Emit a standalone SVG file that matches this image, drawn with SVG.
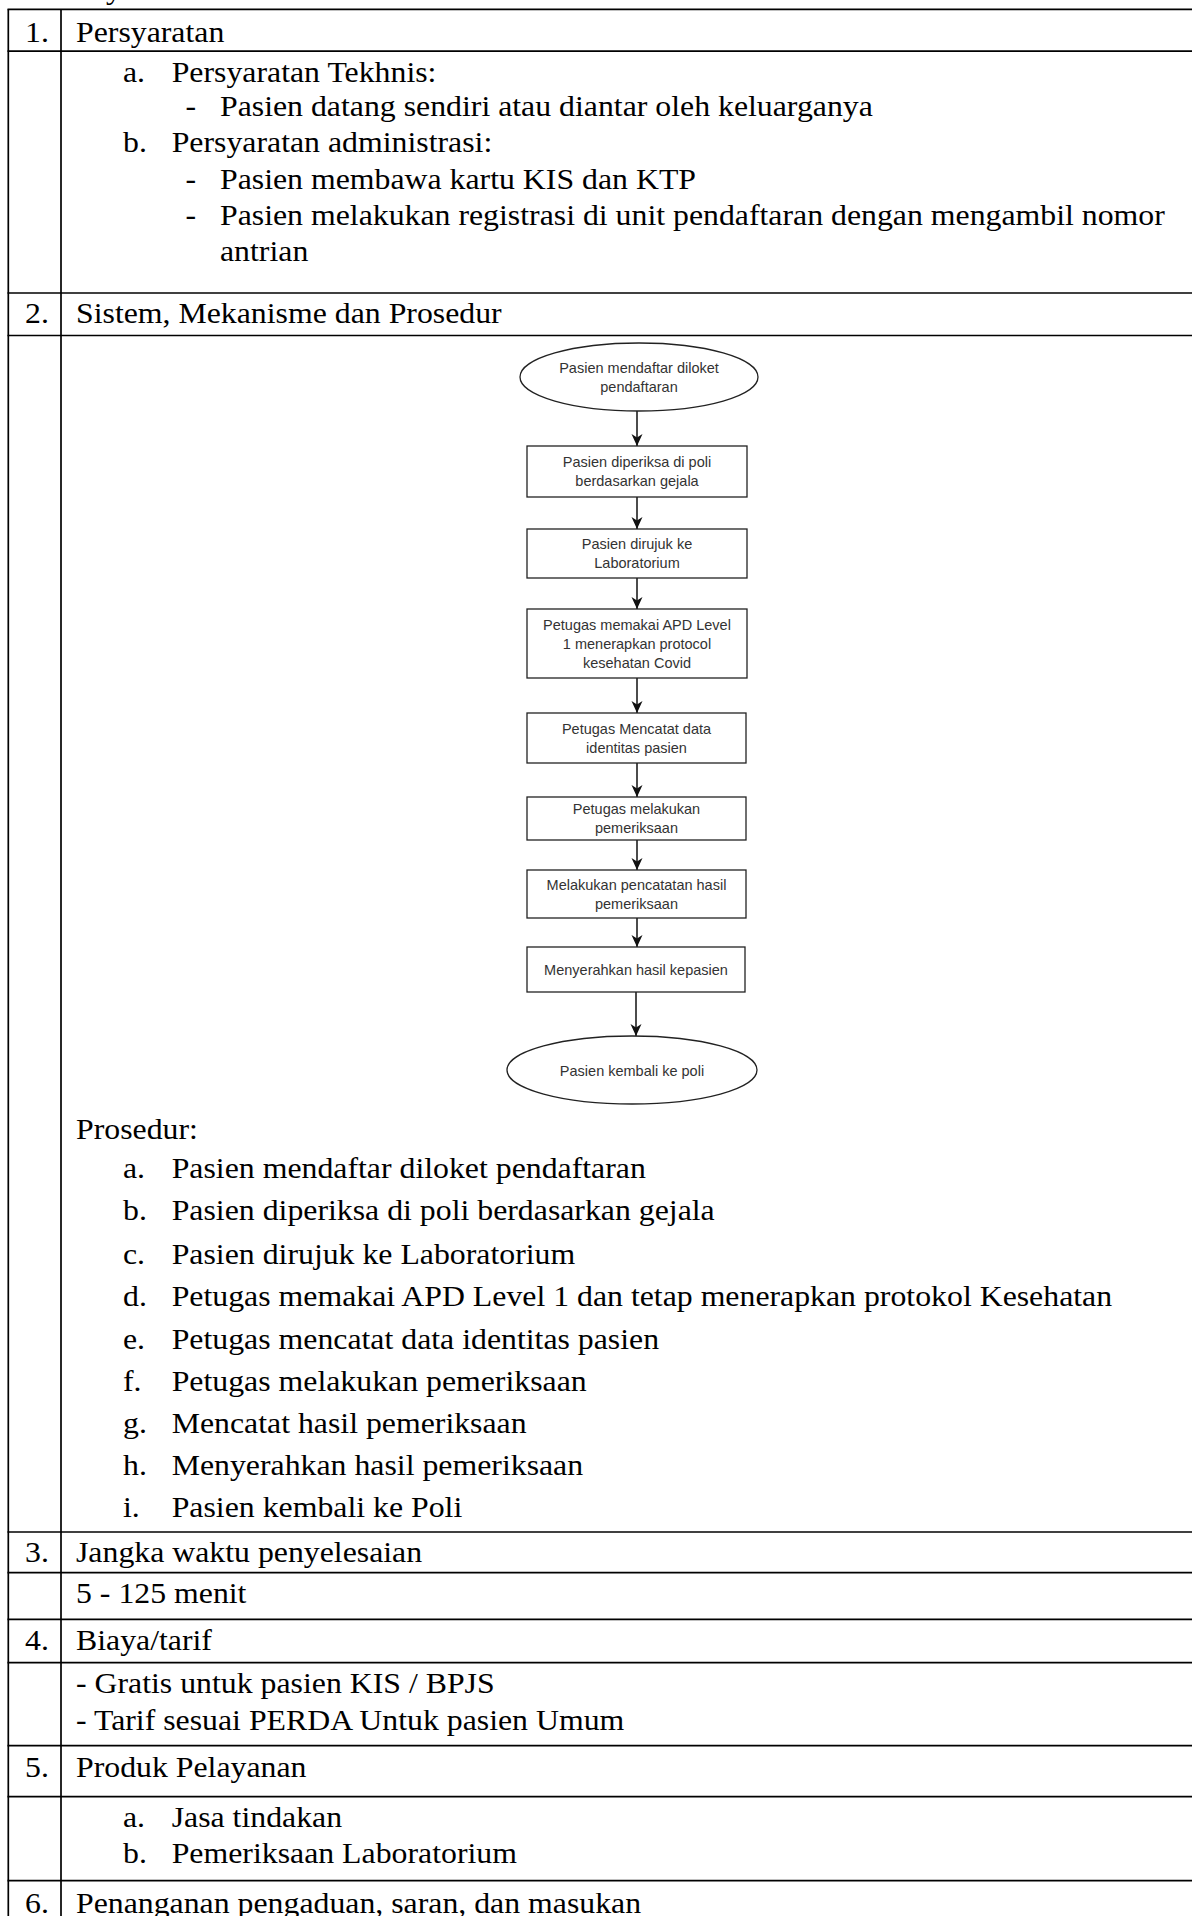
<svg xmlns="http://www.w3.org/2000/svg" width="1192" height="1916" viewBox="0 0 1192 1916">
<style>
.t { font-family: "Liberation Serif", "Times New Roman", serif; font-size: 31.8px; fill: #000; }
.f { font-family: "Liberation Sans", Arial, sans-serif; font-size: 14.5px; fill: #333; text-anchor: middle; }
.box { fill: #fff; stroke: #222; stroke-width: 1.3; }
.con { stroke: #111; stroke-width: 1.5; fill: none; marker-end: url(#arr); }
.grid { stroke: #000; stroke-width: 1.7; fill: none; }
</style>
<defs>
<marker id="arr" markerUnits="userSpaceOnUse" markerWidth="12" markerHeight="12" viewBox="0 0 12 12" refX="12" refY="6" orient="auto">
<path d="M0,0.5 L12,6 L0,11.5 L3.5,6 z" fill="#111"/>
</marker>
</defs>
<rect x="0" y="0" width="1192" height="1916" fill="#fff"/>

<g id="table-grid">
<line class="grid" x1="8.3" y1="9.3" x2="8.3" y2="1916"/>
<line class="grid" x1="61" y1="9.3" x2="61" y2="1916"/>
<line class="grid" x1="7.5" y1="9.3" x2="1192" y2="9.3"/>
<line class="grid" x1="7.5" y1="51.2" x2="1192" y2="51.2"/>
<line class="grid" x1="7.5" y1="293" x2="1192" y2="293"/>
<line class="grid" x1="7.5" y1="335.5" x2="1192" y2="335.5"/>
<line class="grid" x1="7.5" y1="1532" x2="1192" y2="1532"/>
<line class="grid" x1="7.5" y1="1572.7" x2="1192" y2="1572.7"/>
<line class="grid" x1="7.5" y1="1619.3" x2="1192" y2="1619.3"/>
<line class="grid" x1="7.5" y1="1662.7" x2="1192" y2="1662.7"/>
<line class="grid" x1="7.5" y1="1745.7" x2="1192" y2="1745.7"/>
<line class="grid" x1="7.5" y1="1796.7" x2="1192" y2="1796.7"/>
<line class="grid" x1="7.5" y1="1880.7" x2="1192" y2="1880.7"/>
</g>

<g id="table-text" transform="scale(1,0.9)">
<text class="t" x="106" y="-1.1">y</text>
<text class="t" x="25" y="46.33">1.</text>
<text class="t" x="76" y="46.33">Persyaratan</text>
<text class="t" x="123" y="91.11">a.</text>
<text class="t" x="171.7" y="91.11">Persyaratan Tekhnis:</text>
<text class="t" x="185.6" y="128.89">-</text>
<text class="t" x="220" y="128.89">Pasien datang sendiri atau diantar oleh keluarganya</text>
<text class="t" x="123" y="168.89">b.</text>
<text class="t" x="171.7" y="168.89">Persyaratan administrasi:</text>
<text class="t" x="185.6" y="210">-</text>
<text class="t" x="220" y="210">Pasien membawa kartu KIS dan KTP</text>
<text class="t" x="185.6" y="250">-</text>
<text class="t" x="220" y="250">Pasien melakukan registrasi di unit pendaftaran dengan mengambil nomor</text>
<text class="t" x="220" y="290">antrian</text>
<text class="t" x="25" y="358.89">2.</text>
<text class="t" x="76" y="358.89">Sistem, Mekanisme dan Prosedur</text>

<text class="t" x="76" y="1266.11">Prosedur:</text>
<text class="t" x="123" y="1309.44">a.</text>
<text class="t" x="171.7" y="1309.44">Pasien mendaftar diloket pendaftaran</text>
<text class="t" x="123" y="1356.11">b.</text>
<text class="t" x="171.7" y="1356.11">Pasien diperiksa di poli berdasarkan gejala</text>
<text class="t" x="123" y="1405">c.</text>
<text class="t" x="171.7" y="1405">Pasien dirujuk ke Laboratorium</text>
<text class="t" x="123" y="1451.67">d.</text>
<text class="t" x="171.7" y="1451.67">Petugas memakai APD Level 1 dan tetap menerapkan protokol Kesehatan</text>
<text class="t" x="123" y="1498.89">e.</text>
<text class="t" x="171.7" y="1498.89">Petugas mencatat data identitas pasien</text>
<text class="t" x="123" y="1545.56">f.</text>
<text class="t" x="171.7" y="1545.56">Petugas melakukan pemeriksaan</text>
<text class="t" x="123" y="1592.22">g.</text>
<text class="t" x="171.7" y="1592.22">Mencatat hasil pemeriksaan</text>
<text class="t" x="123" y="1639.44">h.</text>
<text class="t" x="171.7" y="1639.44">Menyerahkan hasil pemeriksaan</text>
<text class="t" x="123" y="1685.22">i.</text>
<text class="t" x="171.7" y="1685.22">Pasien kembali ke Poli</text>

<text class="t" x="25" y="1735.22">3.</text>
<text class="t" x="76" y="1735.22">Jangka waktu penyelesaian</text>
<text class="t" x="76" y="1781.44">5 - 125 menit</text>
<text class="t" x="25" y="1833.33">4.</text>
<text class="t" x="76" y="1833.33">Biaya/tarif</text>
<text class="t" x="76" y="1881.44">- Gratis untuk pasien KIS / BPJS</text>
<text class="t" x="76" y="1922.22">- Tarif sesuai PERDA Untuk pasien Umum</text>
<text class="t" x="25" y="1974.11">5.</text>
<text class="t" x="76" y="1974.11">Produk Pelayanan</text>
<text class="t" x="123" y="2029.67">a.</text>
<text class="t" x="171.7" y="2029.67">Jasa tindakan</text>
<text class="t" x="123" y="2070.33">b.</text>
<text class="t" x="171.7" y="2070.33">Pemeriksaan Laboratorium</text>
<text class="t" x="25" y="2125.89">6.</text>
<text class="t" x="76" y="2125.89">Penanganan pengaduan, saran, dan masukan</text>
</g>

<g id="connectors">
<line class="con" x1="637" y1="411" x2="637" y2="446"/>
<line class="con" x1="637" y1="497" x2="637" y2="529"/>
<line class="con" x1="637" y1="578" x2="637" y2="609"/>
<line class="con" x1="637" y1="678" x2="637" y2="713"/>
<line class="con" x1="637" y1="763" x2="637" y2="797"/>
<line class="con" x1="637" y1="840" x2="637" y2="870"/>
<line class="con" x1="637" y1="918" x2="637" y2="947"/>
<line class="con" x1="636" y1="992" x2="636" y2="1036"/>
</g>

<g id="n-start">
<ellipse class="box" cx="639" cy="377" rx="119" ry="34"/>
<text class="f" x="639" y="373">Pasien mendaftar diloket</text>
<text class="f" x="639" y="392">pendaftaran</text>
</g>
<g id="n-periksa">
<rect class="box" x="527" y="446" width="220" height="51"/>
<text class="f" x="637" y="467">Pasien diperiksa di poli</text>
<text class="f" x="637" y="486">berdasarkan gejala</text>
</g>
<g id="n-rujuk">
<rect class="box" x="527" y="529" width="220" height="49"/>
<text class="f" x="637" y="549">Pasien dirujuk ke</text>
<text class="f" x="637" y="568">Laboratorium</text>
</g>
<g id="n-apd">
<rect class="box" x="527" y="609" width="220" height="69"/>
<text class="f" x="637" y="629.5">Petugas memakai APD Level</text>
<text class="f" x="637" y="648.5">1 menerapkan protocol</text>
<text class="f" x="637" y="667.5">kesehatan Covid</text>
</g>
<g id="n-catat">
<rect class="box" x="527" y="713" width="219" height="50"/>
<text class="f" x="636.5" y="733.5">Petugas Mencatat data</text>
<text class="f" x="636.5" y="752.5">identitas pasien</text>
</g>
<g id="n-periksa2">
<rect class="box" x="527" y="797" width="219" height="43"/>
<text class="f" x="636.5" y="814">Petugas melakukan</text>
<text class="f" x="636.5" y="833">pemeriksaan</text>
</g>
<g id="n-hasil">
<rect class="box" x="527" y="870" width="219" height="48"/>
<text class="f" x="636.5" y="889.5">Melakukan pencatatan hasil</text>
<text class="f" x="636.5" y="908.5">pemeriksaan</text>
</g>
<g id="n-serah">
<rect class="box" x="527" y="947" width="218" height="45"/>
<text class="f" x="636" y="974.5">Menyerahkan hasil kepasien</text>
</g>
<g id="n-end">
<ellipse class="box" cx="632" cy="1070" rx="125" ry="34"/>
<text class="f" x="632" y="1076">Pasien kembali ke poli</text>
</g>
</svg>
